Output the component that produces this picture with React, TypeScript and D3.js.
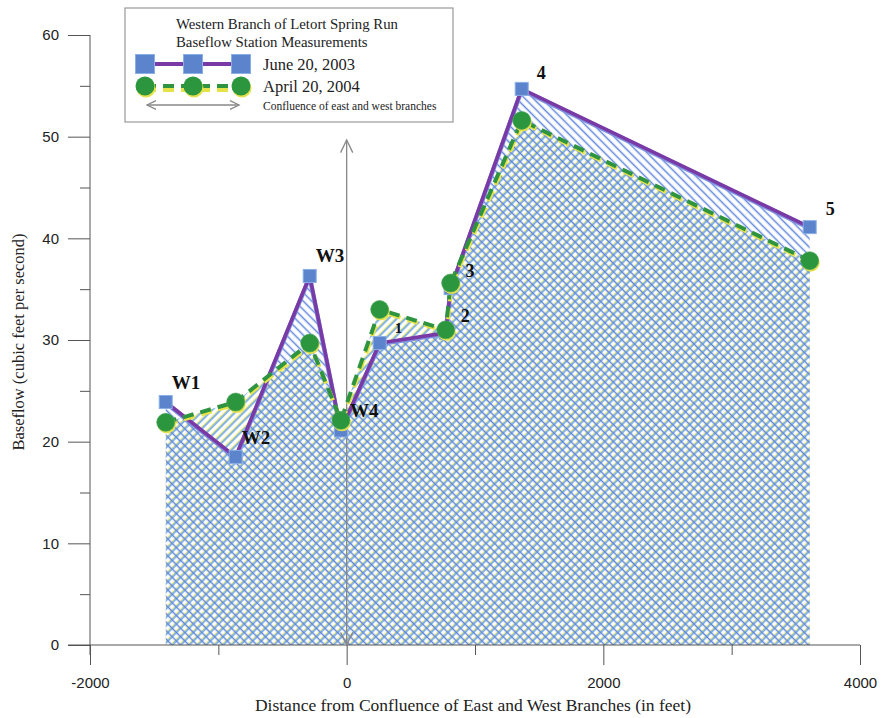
import * as d3 from "d3";
import { useEffect, useRef } from "react";

// station names, distance from the confluence (ft) and baseflow (cfs)
const stations = ["W1", "W2", "W3", "W4", "1", "2", "3", "4", "5"];
const distanceFt = [-1410, -865, -288, -45, 257, 772, 810, 1364, 3608];
const june2003 = [23.9, 18.5, 36.3, 21.1, 29.7, 30.7, 35.1, 54.7, 41.1];
const april2004 = [21.9, 23.9, 29.7, 22.1, 33.0, 31.0, 35.6, 51.6, 37.8];

const xTicks = [-2000, 0, 2000, 4000];
const xMinorTicks = [-1000, 1000, 3000];
const yTicks = [0, 10, 20, 30, 40, 50, 60];
const yMinorTicks = [5, 15, 25, 35, 45, 55];

const legendTitle = ["Western Branch of Letort Spring Run", "Baseflow Station Measurements"];
const legendLabels = ["June 20, 2003", "April 20, 2004", "Confluence of east and west branches"];

export default function App() {
  const ref = useRef<SVGSVGElement>(null);

  useEffect(() => {
    const width = 891;
    const height = 718;
    const svg = d3.select(ref.current).attr("width", width).attr("height", height);
    svg.selectAll("*").remove();

    const x = d3.scaleLinear().domain([-2000, 4000]).range([90, 860]);
    const y = d3.scaleLinear().domain([0, 60]).range([645, 35]);
    const sans = "'Liberation Sans', Arial, sans-serif";
    const serif = "'Liberation Serif', 'Times New Roman', serif";

    const junePts: [number, number][] = distanceFt.map((d, i) => [d, june2003[i]]);
    const aprilPts: [number, number][] = distanceFt.map((d, i) => [d, april2004[i]]);

    // Hatch patterns
    const defs = svg.append("defs");
    const pa = defs.append("pattern")
      .attr("id", "hatchApril")
      .attr("patternUnits", "userSpaceOnUse")
      .attr("width", 6).attr("height", 6)
      .attr("patternTransform", "rotate(45)");
    pa.append("line").attr("x1", 0.7).attr("x2", 0.7).attr("y1", 0).attr("y2", 6)
      .attr("stroke", "#efe66a").attr("stroke-width", 1.2);
    pa.append("line").attr("x1", 2.0).attr("x2", 2.0).attr("y1", 0).attr("y2", 6)
      .attr("stroke", "#5c9ee0").attr("stroke-width", 1.5);

    const pj = defs.append("pattern")
      .attr("id", "hatchJune")
      .attr("patternUnits", "userSpaceOnUse")
      .attr("width", 6).attr("height", 6)
      .attr("patternTransform", "rotate(-45)");
    pj.append("line").attr("x1", 1.5).attr("x2", 1.5).attr("y1", 0).attr("y2", 6)
      .attr("stroke", "#5f86dc").attr("stroke-width", 1.5);

    // Areas under each survey
    const area = d3.area<[number, number]>()
      .x(d => x(d[0]))
      .y0(y(0))
      .y1(d => y(d[1]));

    svg.append("path").datum(aprilPts).attr("d", area).attr("fill", "url(#hatchApril)");
    svg.append("path").datum(junePts).attr("d", area).attr("fill", "url(#hatchJune)");

    // Y axis
    const yAxis = svg.append("g")
      .attr("transform", "translate(90,0)")
      .call(d3.axisLeft(y).tickValues(yTicks).tickSize(22).tickPadding(9).tickSizeOuter(0));
    yAxis.select(".domain").remove();
    svg.append("g")
      .attr("transform", "translate(90,0)")
      .call(d3.axisLeft(y).tickValues(yMinorTicks).tickSize(10).tickFormat(() => ""))
      .select(".domain").remove();
    svg.append("line")
      .attr("x1", 90).attr("x2", 90).attr("y1", y(60)).attr("y2", y(0) + 10)
      .attr("stroke", "#555");

    // X axis
    const xAxis = svg.append("g")
      .attr("transform", `translate(0,${y(0)})`)
      .call(d3.axisBottom(x).tickValues(xTicks).tickSize(20).tickPadding(12)
        .tickFormat(d => String(d)).tickSizeOuter(0));
    xAxis.select(".domain").remove();
    svg.append("g")
      .attr("transform", `translate(0,${y(0)})`)
      .call(d3.axisBottom(x).tickValues(xMinorTicks).tickSize(10).tickFormat(() => ""))
      .select(".domain").remove();
    svg.append("line")
      .attr("x1", 68).attr("x2", x(4000)).attr("y1", y(0)).attr("y2", y(0))
      .attr("stroke", "#555");

    svg.selectAll(".tick line").attr("stroke", "#555");
    svg.selectAll(".tick text")
      .attr("font-family", sans)
      .attr("font-size", 15)
      .attr("fill", "#222");

    // Axis titles
    svg.append("text")
      .attr("x", x(1000) - 2).attr("y", 711)
      .attr("text-anchor", "middle")
      .attr("font-family", serif).attr("font-size", 17.5)
      .attr("fill", "#222")
      .text("Distance from Confluence of East and West Branches (in feet)");
    svg.append("text")
      .attr("transform", `translate(24,${y(30) + 2}) rotate(-90)`)
      .attr("text-anchor", "middle")
      .attr("font-family", serif).attr("font-size", 16.5)
      .attr("fill", "#222")
      .text("Baseflow (cubic feet per second)");

    // Confluence arrow at x = 0
    const drawArrow = (g: any, x1: number, y1: number, x2: number, y2: number, head: number) => {
      g.append("line").attr("x1", x1).attr("x2", x2).attr("y1", y1).attr("y2", y2);
      const ang = Math.atan2(y2 - y1, x2 - x1);
      [[x1, y1, ang], [x2, y2, ang + Math.PI]].forEach(([px, py, a]) => {
        const p = d3.path();
        p.moveTo(px + head * Math.cos(a + 0.45), py + head * Math.sin(a + 0.45));
        p.lineTo(px, py);
        p.lineTo(px + head * Math.cos(a - 0.45), py + head * Math.sin(a - 0.45));
        g.append("path").attr("d", p.toString()).attr("fill", "none");
      });
    };
    const arrowG = svg.append("g").attr("stroke", "#888").attr("stroke-width", 1.3);
    drawArrow(arrowG, x(0), 140, x(0), y(0), 14);

    // June 2003 line
    const line = d3.line<[number, number]>().x(d => x(d[0])).y(d => y(d[1]));
    svg.append("path").datum(junePts).attr("d", line)
      .attr("fill", "none").attr("stroke", "#7f8fe0").attr("stroke-width", 4.5)
      .attr("transform", "translate(0,1)");
    svg.append("path").datum(junePts).attr("d", line)
      .attr("fill", "none").attr("stroke", "#7a3aa6").attr("stroke-width", 3.6);

    // April 2004 dashed line
    svg.append("path").datum(aprilPts).attr("d", line)
      .attr("fill", "none").attr("stroke", "#e6e24a").attr("stroke-width", 4)
      .attr("stroke-dasharray", "11 7").attr("transform", "translate(1,2)");
    svg.append("path").datum(aprilPts).attr("d", line)
      .attr("fill", "none").attr("stroke", "#2f9440").attr("stroke-width", 4)
      .attr("stroke-dasharray", "11 7");

    // Markers
    const sq = 13;
    svg.selectAll(".sq").data(junePts).join("rect")
      .attr("x", d => x(d[0]) - sq / 2).attr("y", d => y(d[1]) - sq / 2)
      .attr("width", sq).attr("height", sq)
      .attr("fill", "#5b84cc").attr("stroke", "#8aaee6").attr("stroke-width", 1);

    svg.selectAll(".shadow").data(aprilPts).join("circle")
      .attr("cx", d => x(d[0]) + 1).attr("cy", d => y(d[1]) + 2).attr("r", 9)
      .attr("fill", "#e4e24c");
    svg.selectAll(".dot").data(aprilPts).join("circle")
      .attr("cx", d => x(d[0])).attr("cy", d => y(d[1])).attr("r", 9)
      .attr("fill", "#2b963d").attr("stroke", "#4aa35a").attr("stroke-width", 0.6);

    // Station labels
    const labelOffset: Record<string, [number, number, number]> = {
      W1: [6, -13, 19], W2: [6, -13, 19], W3: [6, -14, 19], W4: [9, -13, 19],
      "1": [15, -10, 15], "2": [15, -11, 18], "3": [15, -11, 18], "4": [15, -10, 18], "5": [16, -12, 18],
    };
    svg.selectAll(".lbl").data(stations).join("text")
      .attr("x", (d, i) => x(distanceFt[i]) + labelOffset[d][0])
      .attr("y", (d, i) => y(june2003[i]) + labelOffset[d][1])
      .attr("font-family", serif).attr("font-weight", "bold")
      .attr("font-size", d => labelOffset[d][2])
      .attr("fill", "#111")
      .text(d => d);

    // Legend
    const lg = svg.append("g");
    lg.append("rect").attr("x", 125).attr("y", 8).attr("width", 328).attr("height", 114)
      .attr("fill", "white").attr("stroke", "#999").attr("stroke-width", 1.2);
    lg.selectAll(".lt").data(legendTitle).join("text")
      .attr("x", 176).attr("y", (d, i) => 29 + i * 18)
      .attr("font-family", serif).attr("font-size", 14.8).attr("fill", "#222")
      .text(d => d);
    const lx = [145, 193, 241];
    lg.append("line").attr("x1", 145).attr("x2", 241).attr("y1", 64).attr("y2", 64)
      .attr("stroke", "#7a3aa6").attr("stroke-width", 4);
    lg.selectAll(".lsq").data(lx).join("rect")
      .attr("x", d => d - 9.5).attr("y", 64 - 9.5).attr("width", 19).attr("height", 19)
      .attr("fill", "#5b84cc").attr("stroke", "#8aaee6");
    lg.append("line").attr("x1", 145).attr("x2", 241).attr("y1", 88).attr("y2", 88)
      .attr("stroke", "#e6e24a").attr("stroke-width", 4).attr("stroke-dasharray", "11 7")
      .attr("transform", "translate(0,2)");
    lg.append("line").attr("x1", 145).attr("x2", 241).attr("y1", 86).attr("y2", 86)
      .attr("stroke", "#2f9440").attr("stroke-width", 4).attr("stroke-dasharray", "11 7");
    lg.selectAll(".lsh").data(lx).join("circle")
      .attr("cx", d => d + 1).attr("cy", 88).attr("r", 9.5).attr("fill", "#e4e24c");
    lg.selectAll(".ldot").data(lx).join("circle")
      .attr("cx", d => d).attr("cy", 86).attr("r", 9.5).attr("fill", "#2b963d");
    drawArrow(lg.append("g").attr("stroke", "#888").attr("stroke-width", 1.3), 147, 105, 239, 105, 10);
    lg.selectAll(".ll").data(legendLabels).join("text")
      .attr("x", 263).attr("y", (d, i) => [70, 92, 110][i])
      .attr("font-family", serif).attr("font-size", (d, i) => (i < 2 ? 16.5 : 11.5))
      .attr("fill", "#222")
      .text(d => d);
  }, []);

  return (
    <div style={{ position: "absolute", left: 0, top: 0 }}>
      <svg ref={ref} style={{ display: "block", background: "white" }}></svg>
    </div>
  );
}
